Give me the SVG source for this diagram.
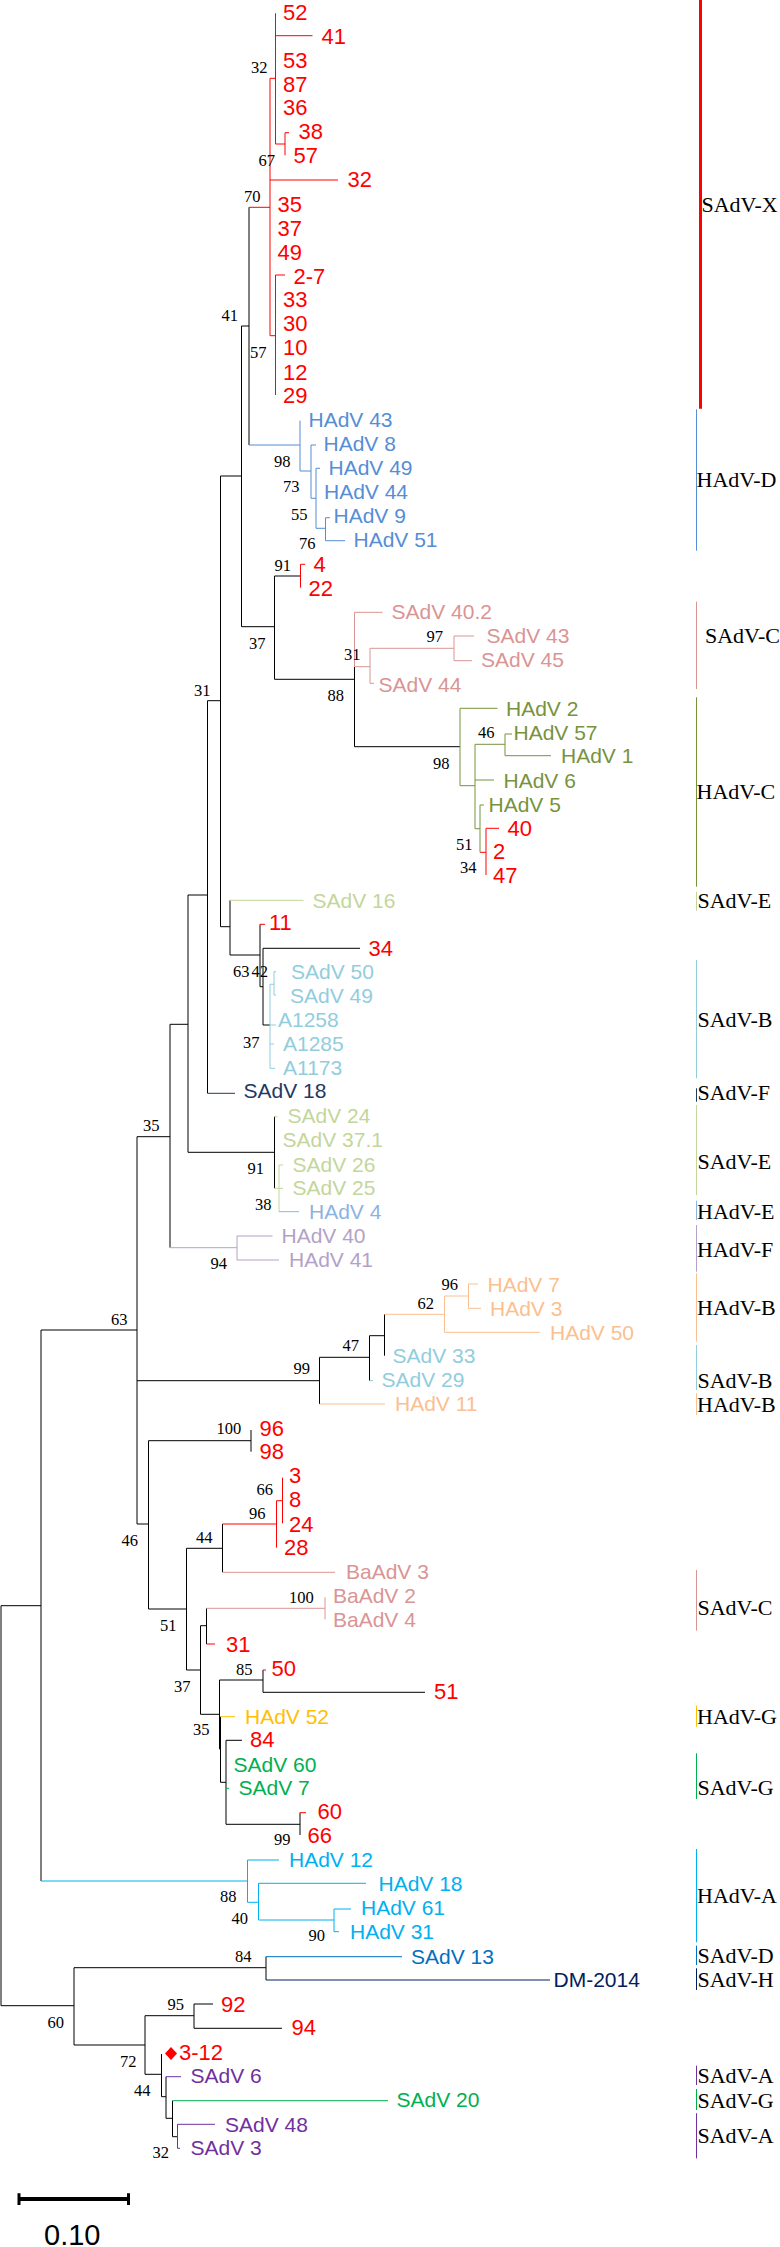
<svg xmlns="http://www.w3.org/2000/svg" width="780" height="2247" viewBox="0 0 780 2247">
<style>
.k{fill:none;stroke:#000;stroke-width:1}
.rd{fill:none;stroke:#f00;stroke-width:1}
.bd{fill:none;stroke:#558ed5;stroke-width:1}
.pk{fill:none;stroke:#d99594;stroke-width:1}
.ol{fill:none;stroke:#77933c;stroke-width:1}
.pg{fill:none;stroke:#c3d69b;stroke-width:1}
.lb{fill:none;stroke:#92cddc;stroke-width:1}
.nv{fill:none;stroke:#1f3864;stroke-width:1}
.he{fill:none;stroke:#8db3e2;stroke-width:1}
.pu{fill:none;stroke:#b3a2c7;stroke-width:1}
.pc{fill:none;stroke:#fac090;stroke-width:1}
.yl{fill:none;stroke:#ffc000;stroke-width:1}
.gr{fill:none;stroke:#00b050;stroke-width:1}
.ha{fill:none;stroke:#00b0f0;stroke-width:1}
.sd{fill:none;stroke:#0070c0;stroke-width:1}
.dm{fill:none;stroke:#002060;stroke-width:1}
.sa{fill:none;stroke:#7030a0;stroke-width:1}
text{font-family:"Liberation Sans",Arial,sans-serif}
.n{font-size:22px;fill:#f00}
.t{font-size:21px}
.b{font-family:"Liberation Serif","Times New Roman",serif;font-size:16.5px;fill:#000}
.c{font-family:"Liberation Serif","Times New Roman",serif;font-size:22px;fill:#000}
</style>
<g id="connectors">
<path class="k" d="M1,1605.7V2005.7M1,1605.7H41M1,2005.7H74M41,1330V1881M41,1330H137M137,1136.7V1524M137,1136.7H170M137,1380.7H319.5M137,1524H148.5M170,1024.3V1247.7M170,1024.3H188M188,895V1152.3M188,895H207.5M188,1152.3H274.5M207.5,700.7V1093.3M207.5,700.7H220.5M220.5,476V926.7M220.5,476H241.5M220.5,926.7H230M241.5,326V626.7M241.5,326H249M241.5,626.7H274.5M249,207.3V445M274.5,576V679.3M274.5,576H300.5M274.5,679.3H354.5M354.5,666.7V746.7M354.5,746.7H460M230,900.3V955M230,955H260M260,924.3V986.7M260,986.7H263M263,948.3V1025M263,948.3H360M263,1025H270M274.5,1116.7V1188.3M384.5,1314.3V1355.7M369.5,1335.7H384.5M369.5,1335.7V1380.7M319.5,1357.3H369.5M319.5,1357.3V1404M148.5,1440.7V1609M148.5,1440.7H251M251,1430V1451.7M148.5,1609H186.5M186.5,1548.3V1670M186.5,1548.3H222.5M222.5,1524V1572.3M186.5,1670H200.5M200.5,1625.7V1714.3M200.5,1625.7H206.5M206.5,1608.3V1644M200.5,1714.3H219.5M219.5,1680V1749M219.5,1680H263M263,1670V1692.3M263,1692.3H425M219.5,1749H220.5M220.5,1716.7V1782.3M220.5,1782.3H226M226,1740.3V1824.3M226,1824.3H300M226,1740.3H242M300,1812.7V1835M74,1967.7V2045M74,1967.7H266M74,2045H145M266,1956.7V1980M145,2015.7V2074.3M145,2015.7H194M194,2004V2028.3M194,2004H213M194,2028.3H282M145,2074.3H161.5M161.5,2054V2096.7M161.5,2096.7H166M166,2076.7V2118.3M166,2118.3H172.5M172.5,2100.7V2136.7M172.5,2136.7H177.5"/>
<path class="rd" d="M275.5,13.3V144M275.5,35.7H312.5M275.5,144H285M285,132.7V155.3M285,132.7H289M270,78.3H275.5M270,180H338M249,207.3H270M270,210V335.7M270,335.7H275.5M275.5,275V395M275.5,275H285M300.5,564.3V587.7M300.5,564.3H305M486,828.3V875M486,828.3H499M480,852.3H486M260,924.3H265M222.5,1524H276.5M276.5,1500.7V1547.7M276.5,1500.7H282.5M282.5,1477.7V1523.3M206.5,1644H215M263,1670H266M300,1812.7H306"/>
<path class="rd" stroke-width="3" d="M270,78.3V210"/>
<path class="bd" d="M249,445H300M300,420.7V471M300,471H311M311,445V498.3M311,445H316M311,498.3H316M316,468.3V528.3M316,468.3H320M316,528.3H325.5M325.5,517.7V540.7M325.5,517.7H330M325.5,540.7H345"/>
<path class="pk" d="M354.5,612.3V666.7M354.5,612.3H382.5M354.5,666.7H370M370,648.3V683.3M370,648.3H454M454,636V660.7M454,636H474M454,660.7H472M370,683.3H374M222.5,1572.3H335M206.5,1608.3H325M325,1597.3V1619.3"/>
<path class="ol" d="M460,708.3V785.7M460,708.3H497.5M460,785.7H475M475,744.3V828.7M475,744.3H505M505,734V755.7M505,734H512M505,755.7H551M475,780H494M475,828.7H480M480,805V852.3M480,805H484"/>
<path class="pg" d="M230,900.3H303.5M274.5,1116.7H277.5M274.5,1188.3H279M279,1165V1211.7M279,1165H283M279,1188.3H283"/>
<path class="lb" d="M270,984.3V1068.3M270,984.3H274M274,971.7V995M274,971.7H276M274,995H276M270,1025H276M270,1044H274M270,1068.3H275M369.5,1380.7H373"/>
<path class="nv" d="M207.5,1093.3H235"/>
<path class="he" d="M279,1211.7H299"/>
<path class="pu" d="M170,1247.7H237M237,1236V1260M237,1236H272.5M237,1260H279"/>
<path class="pc" d="M384.5,1314.3H444.5M444.5,1296V1332.3M444.5,1296H468.5M468.5,1284V1308.3M468.5,1284H478M468.5,1308.3H481M444.5,1332.3H540M319.5,1404H385"/>
<path class="yl" d="M220.5,1716.7H235"/>
<path class="gr" d="M226,1788.3H229M172.5,2100.7H388"/>
<path class="ha" d="M41,1881H247.5M247.5,1860V1902.3M247.5,1860H279M247.5,1902.3H258.5M258.5,1883.3V1920M258.5,1883.3H366M258.5,1920H334M334,1909V1931.7M334,1909H351M334,1931.7H339"/>
<path class="sd" d="M266,1956.7H402"/>
<path class="dm" d="M266,1980H550"/>
<path class="sa" d="M166,2076.7H181M177.5,2124.3V2148.3M177.5,2124.3H215M177.5,2148.3H180"/>
</g>
<g id="leaves-red">
<text class="n" x="283" y="20">52</text>
<text class="n" x="321.5" y="43.7">41</text>
<text class="n" x="283" y="67.7">53</text>
<text class="n" x="283" y="91.7">87</text>
<text class="n" x="283" y="115.3">36</text>
<text class="n" x="298.5" y="139.3">38</text>
<text class="n" x="293.5" y="163.3">57</text>
<text class="n" x="347.5" y="187.3">32</text>
<text class="n" x="277.5" y="211.7">35</text>
<text class="n" x="277.5" y="235.7">37</text>
<text class="n" x="277.5" y="259.7">49</text>
<text class="n" x="293.5" y="283.7">2-7</text>
<text class="n" x="283" y="307">33</text>
<text class="n" x="283" y="331">30</text>
<text class="n" x="283" y="355">10</text>
<text class="n" x="283" y="380">12</text>
<text class="n" x="283" y="403.3">29</text>
<text class="n" x="313.5" y="571.7">4</text>
<text class="n" x="308.5" y="595.7">22</text>
<text class="n" x="507.5" y="835.7">40</text>
<text class="n" x="493" y="859.3">2</text>
<text class="n" x="493" y="883.3">47</text>
<text class="n" x="269" y="930">11</text>
<text class="n" x="368.5" y="955.7">34</text>
<text class="n" x="259.5" y="1435.7">96</text>
<text class="n" x="259.5" y="1459.3">98</text>
<text class="n" x="289" y="1483.3">3</text>
<text class="n" x="289" y="1507.3">8</text>
<text class="n" x="289" y="1531.7">24</text>
<text class="n" x="284" y="1555">28</text>
<text class="n" x="226" y="1651.7">31</text>
<text class="n" x="271.5" y="1675.7">50</text>
<text class="n" x="434" y="1699">51</text>
<text class="n" x="250" y="1747.3">84</text>
<text class="n" x="317.5" y="1819">60</text>
<text class="n" x="307.5" y="1843.3">66</text>
<text class="n" x="221" y="2011.7">92</text>
<text class="n" x="291.5" y="2035">94</text>
<g id="leaf-3-12"><polygon points="171,2047 177,2053.5 171,2060 165,2053.5" fill="#f00"/><text class="n" x="179" y="2060">3-12</text></g>
</g>
<g id="leaves-ref">
<g fill="#558ed5"><text class="t" x="308.5" y="427.3">HAdV 43</text><text class="t" x="323.5" y="451">HAdV 8</text><text class="t" x="328.5" y="475.3">HAdV 49</text><text class="t" x="324" y="499.3">HAdV 44</text><text class="t" x="333.5" y="523.3">HAdV 9</text><text class="t" x="353.5" y="547.3">HAdV 51</text></g>
<g fill="#d99594"><text class="t" x="391.5" y="619.3">SAdV 40.2</text><text class="t" x="486.5" y="643.3">SAdV 43</text><text class="t" x="481" y="667.3">SAdV 45</text><text class="t" x="378.5" y="691.7">SAdV 44</text><text class="t" x="346" y="1579.3">BaAdV 3</text><text class="t" x="333" y="1603.3">BaAdV 2</text><text class="t" x="333" y="1626.7">BaAdV 4</text></g>
<g fill="#77933c"><text class="t" x="506" y="715.7">HAdV 2</text><text class="t" x="513.5" y="740">HAdV 57</text><text class="t" x="561" y="763.3">HAdV 1</text><text class="t" x="503.5" y="787.7">HAdV 6</text><text class="t" x="488.5" y="811.7">HAdV 5</text></g>
<g fill="#c3d69b"><text class="t" x="312.5" y="907.7">SAdV 16</text><text class="t" x="287.5" y="1123.3">SAdV 24</text><text class="t" x="282.5" y="1147.3">SAdV 37.1</text><text class="t" x="292.5" y="1171.7">SAdV 26</text><text class="t" x="292.5" y="1195">SAdV 25</text></g>
<g fill="#92cddc"><text class="t" x="291" y="979">SAdV 50</text><text class="t" x="290" y="1003.3">SAdV 49</text><text class="t" x="278" y="1026.7">A1258</text><text class="t" x="283" y="1051">A1285</text><text class="t" x="283" y="1075">A1173</text><text class="t" x="392.5" y="1363.3">SAdV 33</text><text class="t" x="381.5" y="1386.7">SAdV 29</text></g>
<g fill="#1f3864"><text class="t" x="243.5" y="1098.3">SAdV 18</text></g>
<g fill="#8db3e2"><text class="t" x="309" y="1219.3">HAdV 4</text></g>
<g fill="#b3a2c7"><text class="t" x="281.5" y="1243.3">HAdV 40</text><text class="t" x="289" y="1267.3">HAdV 41</text></g>
<g fill="#fac090"><text class="t" x="487.5" y="1291.7">HAdV 7</text><text class="t" x="490" y="1315.7">HAdV 3</text><text class="t" x="550" y="1340">HAdV 50</text><text class="t" x="395" y="1411">HAdV 11</text></g>
<g fill="#ffc000"><text class="t" x="245" y="1724">HAdV 52</text></g>
<g fill="#00b050"><text class="t" x="233.5" y="1771.7">SAdV 60</text><text class="t" x="238.5" y="1795">SAdV 7</text><text class="t" x="396.5" y="2107.3">SAdV 20</text></g>
<g fill="#00b0f0"><text class="t" x="289" y="1867.3">HAdV 12</text><text class="t" x="378.5" y="1890.7">HAdV 18</text><text class="t" x="361" y="1915">HAdV 61</text><text class="t" x="350" y="1939.3">HAdV 31</text></g>
<g fill="#0070c0"><text class="t" x="411" y="1964">SAdV 13</text></g>
<g fill="#002060"><text class="t" x="553.5" y="1987.3">DM-2014</text></g>
<g fill="#7030a0"><text class="t" x="190.5" y="2083.3">SAdV 6</text><text class="t" x="225" y="2131.7">SAdV 48</text><text class="t" x="190.5" y="2155">SAdV 3</text></g>
</g>
<g id="bootstrap">
<text class="b" x="251" y="73.3">32</text><text class="b" x="258.5" y="166">67</text><text class="b" x="244" y="201.7">70</text><text class="b" x="221.5" y="321">41</text><text class="b" x="250" y="358.3">57</text><text class="b" x="274" y="466.7">98</text><text class="b" x="283" y="491.7">73</text><text class="b" x="291" y="520">55</text><text class="b" x="299" y="549.3">76</text><text class="b" x="274.5" y="570.7">91</text><text class="b" x="249" y="649">37</text><text class="b" x="426.5" y="642.3">97</text><text class="b" x="344" y="660">31</text><text class="b" x="327.5" y="700.7">88</text><text class="b" x="194" y="695.7">31</text><text class="b" x="478" y="738.3">46</text><text class="b" x="433" y="769">98</text><text class="b" x="456" y="850">51</text><text class="b" x="460" y="873.3">34</text><text class="b" x="233" y="977.3">63</text><text class="b" x="251.5" y="977.3">42</text><text class="b" x="243" y="1047.7">37</text><text class="b" x="143" y="1130.7">35</text><text class="b" x="247.5" y="1174">91</text><text class="b" x="255" y="1210">38</text><text class="b" x="210.5" y="1269.3">94</text><text class="b" x="441.5" y="1290">96</text><text class="b" x="417.5" y="1309">62</text><text class="b" x="111" y="1325">63</text><text class="b" x="342.5" y="1351">47</text><text class="b" x="293.5" y="1374.3">99</text><text class="b" x="216.5" y="1434.3">100</text><text class="b" x="256.5" y="1495">66</text><text class="b" x="249" y="1519">96</text><text class="b" x="121.5" y="1546">46</text><text class="b" x="196" y="1542.7">44</text><text class="b" x="289" y="1602.7">100</text><text class="b" x="160" y="1631">51</text><text class="b" x="236" y="1675">85</text><text class="b" x="174" y="1691.7">37</text><text class="b" x="193" y="1735">35</text><text class="b" x="274" y="1845">99</text><text class="b" x="220" y="1902.3">88</text><text class="b" x="231.5" y="1924">40</text><text class="b" x="308.5" y="1940.7">90</text><text class="b" x="235" y="1962.3">84</text><text class="b" x="167.5" y="2010">95</text><text class="b" x="47.5" y="2028.3">60</text><text class="b" x="120" y="2066.7">72</text><text class="b" x="134" y="2095.7">44</text><text class="b" x="152.5" y="2157.7">32</text>
</g>
<g id="clades">
<g id="c-sadv-x"><path d="M700.5,0V408.7" stroke="#f00" stroke-width="3"/><text class="c" x="701.5" y="211.7">SAdV-X</text></g>
<g id="c-hadv-d"><path d="M696.5,409.3V550.7" stroke="#558ed5"/><text class="c" x="696.5" y="487.3">HAdV-D</text></g>
<g id="c-sadv-c1"><path d="M696.5,601.7V689" stroke="#d99594"/><text class="c" x="705" y="642.7">SAdV-C</text></g>
<g id="c-hadv-c"><path d="M696.5,697.3V886.7" stroke="#77933c"/><text class="c" x="696.5" y="799.3">HAdV-C</text></g>
<g id="c-sadv-e1"><path d="M696.5,891.7V910.7" stroke="#c3d69b"/><text class="c" x="697.5" y="908.3">SAdV-E</text></g>
<g id="c-sadv-b1"><path d="M696.5,960V1078.3" stroke="#92cddc"/><text class="c" x="697.5" y="1027.3">SAdV-B</text></g>
<g id="c-sadv-f"><path d="M696.5,1088.3V1101.7" stroke="#1f3864"/><text class="c" x="697.5" y="1100">SAdV-F</text></g>
<g id="c-sadv-e2"><path d="M696.5,1105V1195" stroke="#c3d69b"/><text class="c" x="697.5" y="1169.3">SAdV-E</text></g>
<g id="c-hadv-e"><path d="M696.5,1200.7V1220" stroke="#8db3e2"/><text class="c" x="697" y="1219.3">HAdV-E</text></g>
<g id="c-hadv-f"><path d="M696.5,1225V1271.7" stroke="#b3a2c7"/><text class="c" x="697" y="1256.7">HAdV-F</text></g>
<g id="c-hadv-b1"><path d="M696.5,1273.3V1341.7" stroke="#fac090"/><text class="c" x="697" y="1315">HAdV-B</text></g>
<g id="c-sadv-b2"><path d="M696.5,1345V1390" stroke="#92cddc"/><text class="c" x="697.5" y="1387.7">SAdV-B</text></g>
<g id="c-hadv-b2"><path d="M696.5,1393.3V1415" stroke="#fac090"/><text class="c" x="697" y="1411.7">HAdV-B</text></g>
<g id="c-sadv-c2"><path d="M696.5,1570V1630.7" stroke="#d99594"/><text class="c" x="697.5" y="1615">SAdV-C</text></g>
<g id="c-hadv-g"><path d="M696.5,1705.7V1726.7" stroke="#ffc000"/><text class="c" x="697" y="1724.3">HAdV-G</text></g>
<g id="c-sadv-g1"><path d="M696.5,1753.3V1799" stroke="#00b050"/><text class="c" x="697.5" y="1795">SAdV-G</text></g>
<g id="c-hadv-a"><path d="M696.5,1849V1942.3" stroke="#00b0f0"/><text class="c" x="697" y="1903.3">HAdV-A</text></g>
<g id="c-sadv-d"><path d="M696.5,1945.7V1965" stroke="#0070c0"/><text class="c" x="697.5" y="1963.3">SAdV-D</text></g>
<g id="c-sadv-h"><path d="M696.5,1968.3V1990" stroke="#002060"/><text class="c" x="697.5" y="1986.7">SAdV-H</text></g>
<g id="c-sadv-a1"><path d="M696.5,2065.7V2085" stroke="#7030a0"/><text class="c" x="697.5" y="2083.3">SAdV-A</text></g>
<g id="c-sadv-g2"><path d="M696.5,2089V2110" stroke="#00b050"/><text class="c" x="697.5" y="2107.7">SAdV-G</text></g>
<g id="c-sadv-a2"><path d="M696.5,2113.3V2158.3" stroke="#7030a0"/><text class="c" x="697.5" y="2143.3">SAdV-A</text></g>
</g>
<g id="scale">
<path d="M19,2199H128.5" stroke="#000" stroke-width="4"/>
<path d="M19,2193.3V2205M128.5,2193.3V2205" stroke="#000" stroke-width="3"/>
<text x="44" y="2245" font-size="29" fill="#000">0.10</text>
</g>
</svg>
